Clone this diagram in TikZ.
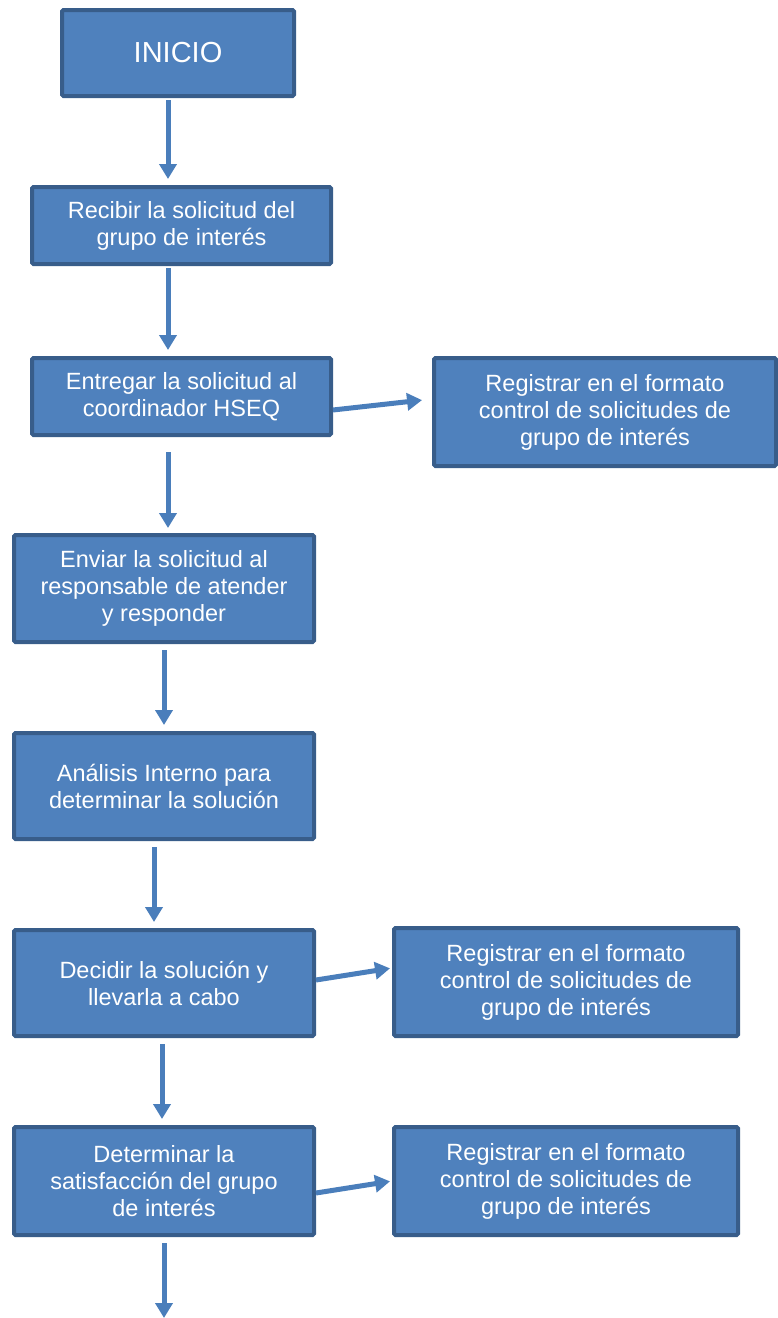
\documentclass[tikz,border=0pt]{standalone}
\usepackage{fontspec}
\setmainfont{Liberation Sans}
\usetikzlibrary{arrows.meta}
\definecolor{boxfill}{HTML}{4F81BD}
\definecolor{boxline}{HTML}{385D8A}
\definecolor{arrcol}{HTML}{4A7EBB}
\begin{document}
\begin{tikzpicture}[x=1pt,y=-1pt,
  box/.style={draw=boxline, fill=boxfill, line width=4pt, rounded corners=1.5pt,
    text=white, align=center, font=\fontsize{23.5}{27}\selectfont, inner sep=0pt},
  arr/.style={draw=arrcol, line width=5pt, -{Triangle[length=15pt,width=17pt]}}]
\useasboundingbox (0,0) rectangle (778,1318);
\node[box, minimum width=232, minimum height=86, font=\fontsize{29}{33}\selectfont] (inicio) at (178,53) {INICIO};
\node[box, minimum width=299, minimum height=77] (recibir) at (181.5,225.5) {Recibir la solicitud del\\grupo de interés};
\node[box, minimum width=299, minimum height=77] (entregar) at (181.5,396.5) {Entregar la solicitud al\\coordinador HSEQ};
\node[box, minimum width=342, minimum height=108] (reg1) at (605,412) {Registrar en el formato\\control de solicitudes de\\grupo de interés};
\node[box, minimum width=300, minimum height=107] (enviar) at (164,588.5) {Enviar la solicitud al\\responsable de atender\\y responder};
\node[box, minimum width=300, minimum height=106] (analisis) at (164,786) {Análisis Interno para\\determinar la solución};
\node[box, minimum width=300, minimum height=106] (decidir) at (164,983) {Decidir la solución y\\llevarla a cabo};
\node[box, minimum width=344, minimum height=108] (reg2) at (566,982) {Registrar en el formato\\control de solicitudes de\\grupo de interés};
\node[box, minimum width=300, minimum height=108] (determinar) at (164,1181) {Determinar la\\satisfacción del grupo\\de interés};
\node[box, minimum width=344, minimum height=108] (reg3) at (566,1181) {Registrar en el formato\\control de solicitudes de\\grupo de interés};
\coordinate (fin) at (164,1318);

\draw[arr, shorten <=2pt, shorten >=6pt] (inicio.south -| 168,0) -- (recibir.north -| 168,0);
\draw[arr, shorten <=2pt, shorten >=6pt] (recibir.south -| 168,0) -- (entregar.north -| 168,0);
\draw[arr, shorten <=15pt, shorten >=5pt] (entregar.south -| 168,0) -- (enviar.north -| 168,0);
\draw[arr, shorten <=6pt, shorten >=6pt] (enviar.south -| 164,0) -- (analisis.north -| 164,0);
\draw[arr, shorten <=6pt, shorten >=6pt] (analisis.south -| 154,0) -- (decidir.north -| 154,0);
\draw[arr, shorten <=6pt, shorten >=6pt] (decidir.south -| 162,0) -- (determinar.north -| 162,0);
\draw[arr, shorten <=6pt] (determinar.south -| 164,0) -- (fin);
\draw[arr, shorten >=10pt] (entregar.east |- 0,410) -- (reg1.west |- 0,399);
\draw[arr, shorten >=2pt] (decidir.east |- 0,980) -- (reg2.west |- 0,968);
\draw[arr, shorten >=2pt] (determinar.east |- 0,1193) -- (reg3.west |- 0,1181);
\end{tikzpicture}
\end{document}
